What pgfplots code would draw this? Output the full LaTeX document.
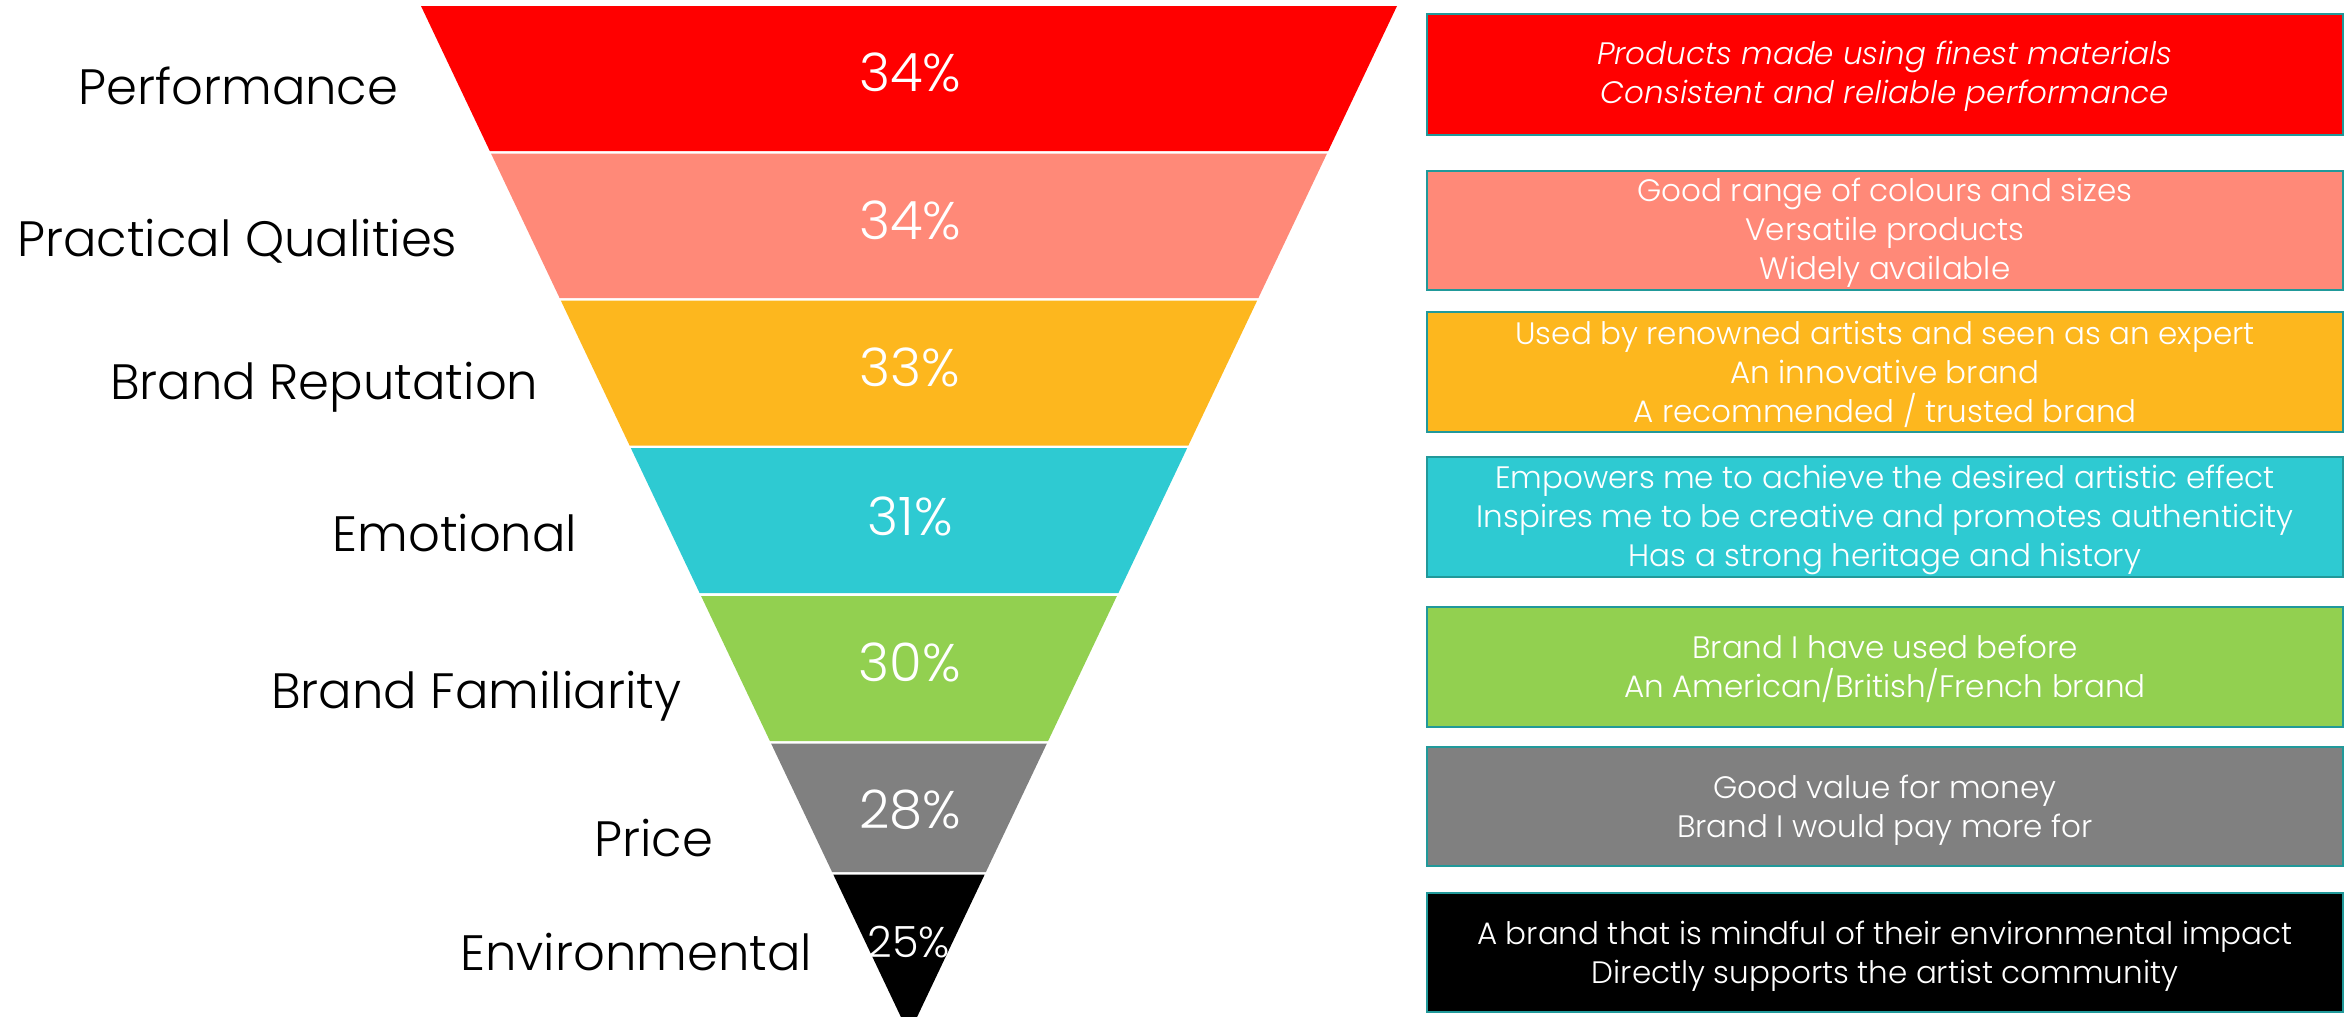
\documentclass[border=0pt]{standalone}
\usepackage{pgfplots}
\pgfplotsset{compat=1.18}
\usepackage{fontspec}
\setmainfont{Poppins}[UprightFont={* Light}, ItalicFont={* Light Italic}]
\definecolor{cred}{HTML}{FF0000}
\definecolor{csalmon}{HTML}{FF8978}
\definecolor{cyellow}{HTML}{FDB71E}
\definecolor{ccyan}{HTML}{2ECAD2}
\definecolor{cgreen}{HTML}{92D050}
\definecolor{cgray}{HTML}{808080}
\definecolor{cborder}{HTML}{21999A}
\begin{document}
\begin{tikzpicture}
\begin{axis}[
  at={(0,0)}, anchor=south west,
  scale only axis, width=705.3pt, height=305.1pt,
  xmin=0, xmax=2351, ymin=0, ymax=1017, y dir=reverse,
  hide axis, clip=true,
]
% funnel segments
\addplot[fill=cred, draw=none] coordinates {(421,6) (1397,6) (1328.2,151) (489.8,151)};
\addplot[fill=csalmon, draw=none] coordinates {(491,153.5) (1327,153.5) (1258.4,298) (559.6,298)};
\addplot[fill=cyellow, draw=none] coordinates {(560.8,300.5) (1257.2,300.5) (1188.4,445.5) (629.6,445.5)};
\addplot[fill=ccyan, draw=none] coordinates {(630.8,448) (1187.2,448) (1118.4,593) (699.6,593)};
\addplot[fill=cgreen, draw=none] coordinates {(701.1,596) (1116.9,596) (1048.1,741) (769.9,741)};
\addplot[fill=cgray, draw=none] coordinates {(771.1,743.5) (1046.9,743.5) (985.9,872) (832.1,872)};
\addplot[fill=black, draw=none] coordinates {(833.3,874.5) (984.7,874.5) (909,1034)};
% right boxes
\addplot[fill=cred, draw=cborder, line width=0.65pt] coordinates {(1427,14) (2343,14) (2343,135) (1427,135)} -- cycle;
\addplot[fill=csalmon, draw=cborder, line width=0.65pt] coordinates {(1427,171) (2343,171) (2343,290) (1427,290)} -- cycle;
\addplot[fill=cyellow, draw=cborder, line width=0.65pt] coordinates {(1427,312) (2343,312) (2343,432) (1427,432)} -- cycle;
\addplot[fill=ccyan, draw=cborder, line width=0.65pt] coordinates {(1427,457) (2343,457) (2343,577) (1427,577)} -- cycle;
\addplot[fill=cgreen, draw=cborder, line width=0.65pt] coordinates {(1427,607) (2343,607) (2343,727) (1427,727)} -- cycle;
\addplot[fill=cgray, draw=cborder, line width=0.65pt] coordinates {(1427,747) (2343,747) (2343,866) (1427,866)} -- cycle;
\addplot[fill=black, draw=cborder, line width=0.65pt] coordinates {(1427,893) (2343,893) (2343,1012) (1427,1012)} -- cycle;
% percentage values
\addplot[draw=none, mark=none, point meta=explicit,
  nodes near coords={\pgfmathprintnumber[assume math mode=true]{\pgfplotspointmeta}\%},
  nodes near coords style={anchor=center, text=white, font=\fontsize{15.9pt}{18pt}\selectfont, inner sep=0pt}]
  table[meta=v] {
x y v
910 72 34
910 220 34
910 367 33
910 516 31
910 662 30
910 810 28
};
\addplot[draw=none, mark=none, point meta=explicit,
  nodes near coords={\pgfmathprintnumber[assume math mode=true]{\pgfplotspointmeta}\%},
  nodes near coords style={anchor=center, text=white, font=\fontsize{12.9pt}{15pt}\selectfont, inner sep=0pt}]
  table[meta=v] {
x y v
909 942 25
};
% category labels
\begin{scope}[every node/.style={anchor=base east, inner sep=0pt, font=\fontsize{14.9pt}{17pt}\selectfont}]
\node at (axis cs:399,104) {Performance};
\node at (axis cs:458,256) {Practical Qualities};
\node at (axis cs:539,399) {Brand Reputation};
\node at (axis cs:578,551) {Emotional};
\node at (axis cs:682,708) {Brand Familiarity};
\node at (axis cs:714,856) {Price};
\node at (axis cs:813,970) {Environmental};
\end{scope}
% box texts
\begin{scope}[every node/.style={anchor=center, align=center, text=white, inner sep=0pt, font=\fontsize{9.3pt}{11.7pt}\selectfont}]
\node at (axis cs:1885,76.5) {\itshape Products made using finest materials\\\itshape Consistent and reliable performance};
\node at (axis cs:1885,233) {Good range of colours and sizes\\Versatile products\\Widely available};
\node at (axis cs:1885,374) {Used by renowned artists and seen as an expert\\An innovative brand\\A recommended / trusted brand};
\node at (axis cs:1885,520) {Empowers me to achieve the desired artistic effect\\Inspires me to be creative and promotes authenticity\\Has a strong heritage and history};
\node at (axis cs:1885,669) {Brand I have used before\\An American/British/French brand};
\node at (axis cs:1885,810) {Good value for money\\Brand I would pay more for};
\node at (axis cs:1885,956) {A brand that is mindful of their environmental impact\\Directly supports the artist community};
\end{scope}
\end{axis}
\pgfresetboundingbox
\useasboundingbox (0,0) rectangle (705.3pt,305.1pt);
\end{tikzpicture}
\end{document}
